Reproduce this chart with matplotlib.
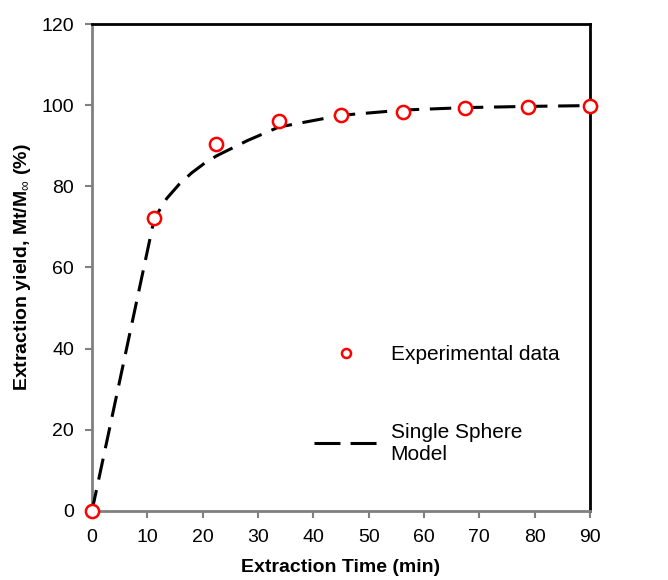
import matplotlib
matplotlib.use("Agg")
import matplotlib.pyplot as plt
from matplotlib.lines import Line2D

plt.rcParams['font.family'] = ['Liberation Sans', 'DejaVu Sans']
plt.rcParams['mathtext.fontset'] = 'custom'
plt.rcParams['mathtext.rm'] = 'Liberation Sans'
plt.rcParams['mathtext.bf'] = 'Liberation Sans:bold'

# experimental points (min, %)
exp_time = [0, 10, 20, 30, 40, 50, 60, 70, 80]
exp_yield = [0, 72.2, 90.4, 96.1, 97.6, 98.3, 99.3, 99.6, 99.8]

# single sphere model curve
model_time = [0, 10, 12, 14, 16, 18, 20, 25, 30, 40, 50, 60, 70, 80]
model_yield = [0, 72.0, 77.0, 80.5, 83.3, 85.6, 87.5, 91.3, 94.6, 97.5, 98.8, 99.4, 99.7, 99.9]

x_ticks = [0, 10, 20, 30, 40, 50, 60, 70, 80, 90]
y_ticks = [0, 20, 40, 60, 80, 100, 120]

gray = '#808080'

fig = plt.figure(figsize=(6.68, 5.8), dpi=100)
ax = fig.add_axes([0.1377, 0.119, 0.7455, 0.8396])
ax.set_xlim(0, 90)
ax.set_ylim(0, 120)
ax.set_xticks(x_ticks)
ax.set_yticks(y_ticks)
ax.tick_params(axis='both', direction='out', length=5, width=1.5, color=gray,
               labelsize=14, pad=8)
for side in ['left', 'bottom']:
    ax.spines[side].set_color(gray)
    ax.spines[side].set_linewidth(2)
for side in ['top', 'right']:
    ax.spines[side].set_color('black')
    ax.spines[side].set_linewidth(2)

ax.set_xlabel('Extraction Time (min)', fontsize=14, fontweight='bold', labelpad=9)
ax.set_ylabel(r'Extraction yield, Mt/M$_{\infty}$ (%)', fontsize=14,
              fontweight='bold', labelpad=6)

# the series were plotted against a hidden 0-80 axis
ax2 = ax.twiny()
ax2.set_xlim(0, 80)
ax2.set_xticks([])
for s in ax2.spines.values():
    s.set_visible(False)

ax2.plot(model_time, model_yield, color='black', lw=2.2, dashes=(7, 3.5),
         clip_on=False)
ax2.plot(exp_time, exp_yield, 'o', mfc='white', mec='red', ms=9.5, mew=1.8,
         clip_on=False)

handles = [
    Line2D([], [], marker='o', ls='none', mfc='white', mec='red', ms=6.5, mew=1.8),
    Line2D([], [], color='black', lw=2.2, dashes=(8.5, 3.3)),
]
leg = ax.legend(handles, ['Experimental data', 'Single Sphere\nModel'],
                loc='upper left', bbox_to_anchor=(0.446, 0.34), frameon=False,
                borderpad=0, borderaxespad=0, fontsize=15, handlelength=3.05,
                labelspacing=2.8, handletextpad=0.62)

fig.savefig('out.png', dpi=100)
